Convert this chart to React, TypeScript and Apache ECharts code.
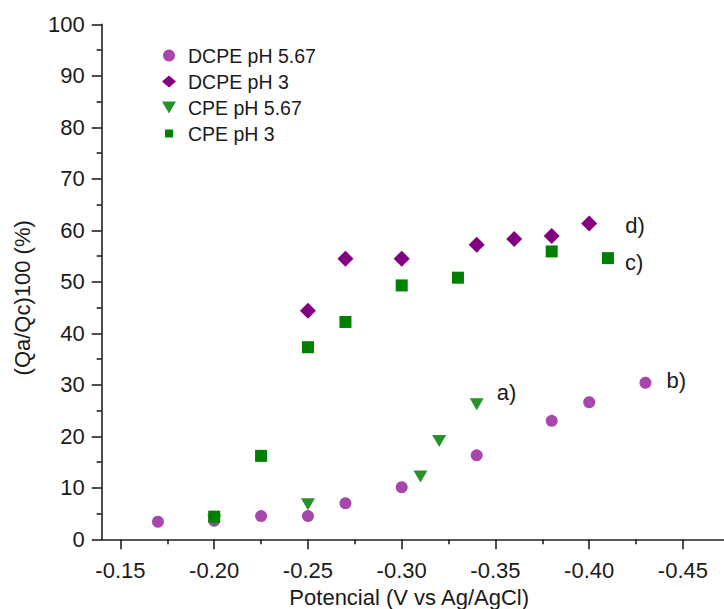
import React, { useEffect, useRef } from 'react';
import * as echarts from 'echarts';

const seriesNames = ['DCPE pH 5.67', 'DCPE pH 3', 'CPE pH 5.67', 'CPE pH 3'];

const dcpe567X = [-0.17, -0.2, -0.225, -0.25, -0.27, -0.3, -0.34, -0.38, -0.4, -0.43];
const dcpe567Y = [3.4, 3.6, 4.5, 4.5, 7.0, 10.1, 16.3, 23.0, 26.6, 30.4];

const dcpe3X = [-0.25, -0.27, -0.3, -0.34, -0.36, -0.38, -0.4];
const dcpe3Y = [44.4, 54.5, 54.5, 57.2, 58.3, 58.9, 61.3];

const cpe567X = [-0.2, -0.25, -0.31, -0.32, -0.34];
const cpe567Y = [3.6, 6.8, 12.2, 19.1, 26.2];

const cpe3X = [-0.2, -0.225, -0.25, -0.27, -0.3, -0.33, -0.38, -0.41];
const cpe3Y = [4.4, 16.2, 37.3, 42.2, 49.3, 50.8, 55.9, 54.6];

const curveLabels = ['b)', 'd)', 'a)', 'c)'];

const xTicks = [-0.15, -0.2, -0.25, -0.3, -0.35, -0.4, -0.45];
const yTicks = [0, 10, 20, 30, 40, 50, 60, 70, 80, 90, 100];

const xName = 'Potencial (V vs Ag/AgCl)';
const yName = '(Qa/Qc)100 (%)';

const FONT = '"Liberation Sans", Arial, Helvetica, sans-serif';
const TEXT = '#1a1a1a';
const AXIS = '#222222';

const COLORS = ['#A847AB', '#800080', '#27922A', '#008000'];

function buildData(xs: number[], ys: number[], label: string, labelCfg: any) {
  return xs.map((x, i) => {
    const item: any = { value: [x, ys[i]] };
    if (i === xs.length - 1) {
      item.label = { show: true, formatter: label, ...labelCfg };
    }
    return item;
  });
}

export default function App() {
  const ref = useRef<HTMLDivElement>(null);
  useEffect(() => {
    if (!ref.current) return;
    const chart = echarts.init(ref.current, null, { renderer: 'svg' });
    const labelBase = { color: TEXT, fontSize: 22, fontFamily: FONT, position: 'right' };
    const axisLine = { show: true, onZero: false, lineStyle: { color: AXIS, width: 1.6 } };
    const option: any = {
      animation: false,
      backgroundColor: '#ffffff',
      grid: {
        left: 101.7,
        top: 24.3,
        width: 675,
        height: 515,
        containLabel: false,
        outerBoundsMode: 'none',
      },
      legend: {
        orient: 'vertical',
        left: 157,
        top: 40.5,
        itemWidth: 14,
        itemHeight: 12,
        itemGap: 6,
        textStyle: { color: TEXT, fontSize: 19.5, fontFamily: FONT, lineHeight: 19, padding: [0, 0, 0, 7] },
        data: [
          { name: seriesNames[0] },
          { name: seriesNames[1] },
          { name: seriesNames[2], icon: 'path://M0 0L14 0L7 12Z' },
          { name: seriesNames[3], icon: 'path://M0 0M14 12M3 2h8v8h-8z' },
        ],
      },
      xAxis: {
        type: 'value',
        inverse: true,
        min: -0.5,
        max: -0.14,
        interval: 0.05,
        axisLine,
        axisTick: { show: true, length: 10, inside: false, customValues: xTicks, lineStyle: { color: AXIS, width: 1.6 } },
        minorTick: { show: true, splitNumber: 2, length: 5, lineStyle: { color: AXIS, width: 1.6 } },
        axisLabel: {
          customValues: xTicks,
          formatter: (v: number) => v.toFixed(2),
          color: TEXT,
          fontSize: 22,
          fontFamily: FONT,
          margin: 20,
        },
        splitLine: { show: false },
        name: xName,
        nameLocation: 'middle',
        nameGap: 47,
        nameTextStyle: { color: TEXT, fontSize: 22, fontFamily: FONT, padding: [0, 60, 0, 0] },
      },
      yAxis: {
        type: 'value',
        min: 0,
        max: 100,
        interval: 10,
        axisLine,
        axisTick: { show: true, length: 10, inside: false, customValues: yTicks, lineStyle: { color: AXIS, width: 1.6 } },
        minorTick: { show: true, splitNumber: 2, length: 5, lineStyle: { color: AXIS, width: 1.6 } },
        axisLabel: {
          customValues: yTicks,
          color: TEXT,
          fontSize: 22,
          fontFamily: FONT,
          margin: 17,
        },
        splitLine: { show: false },
        name: yName,
        nameLocation: 'middle',
        nameGap: 68,
        nameRotate: 90,
        nameTextStyle: { color: TEXT, fontSize: 22, fontFamily: FONT, padding: [0, 32, 0, 0] },
      },
      series: [
        {
          name: seriesNames[0],
          type: 'scatter',
          symbol: 'circle',
          symbolSize: 12,
          itemStyle: { color: COLORS[0], opacity: 1 },
          data: buildData(dcpe567X, dcpe567Y, curveLabels[0], { ...labelBase, distance: 15, offset: [0, -2] }),
        },
        {
          name: seriesNames[1],
          type: 'scatter',
          symbol: 'diamond',
          symbolSize: 16,
          itemStyle: { color: COLORS[1], opacity: 1 },
          data: buildData(dcpe3X, dcpe3Y, curveLabels[1], { ...labelBase, distance: 28, offset: [0, 2] }),
        },
        {
          name: seriesNames[2],
          type: 'scatter',
          symbol: 'triangle',
          symbolRotate: 180,
          symbolSize: [14, 12],
          itemStyle: { color: COLORS[2], opacity: 1 },
          data: buildData(cpe567X, cpe567Y, curveLabels[2], { ...labelBase, distance: 13, offset: [0, -12] }),
        },
        {
          name: seriesNames[3],
          type: 'scatter',
          symbol: 'rect',
          symbolSize: 12,
          itemStyle: { color: COLORS[3], opacity: 1 },
          data: buildData(cpe3X, cpe3Y, curveLabels[3], { ...labelBase, distance: 11, offset: [0, 4] }),
        },
      ],
    };
    chart.setOption(option);
    return () => chart.dispose();
  }, []);
  return (
    <div
      ref={ref}
      style={{ position: 'fixed', left: 0, top: 0, width: 724, height: 609, background: '#fff' }}
    />
  );
}
